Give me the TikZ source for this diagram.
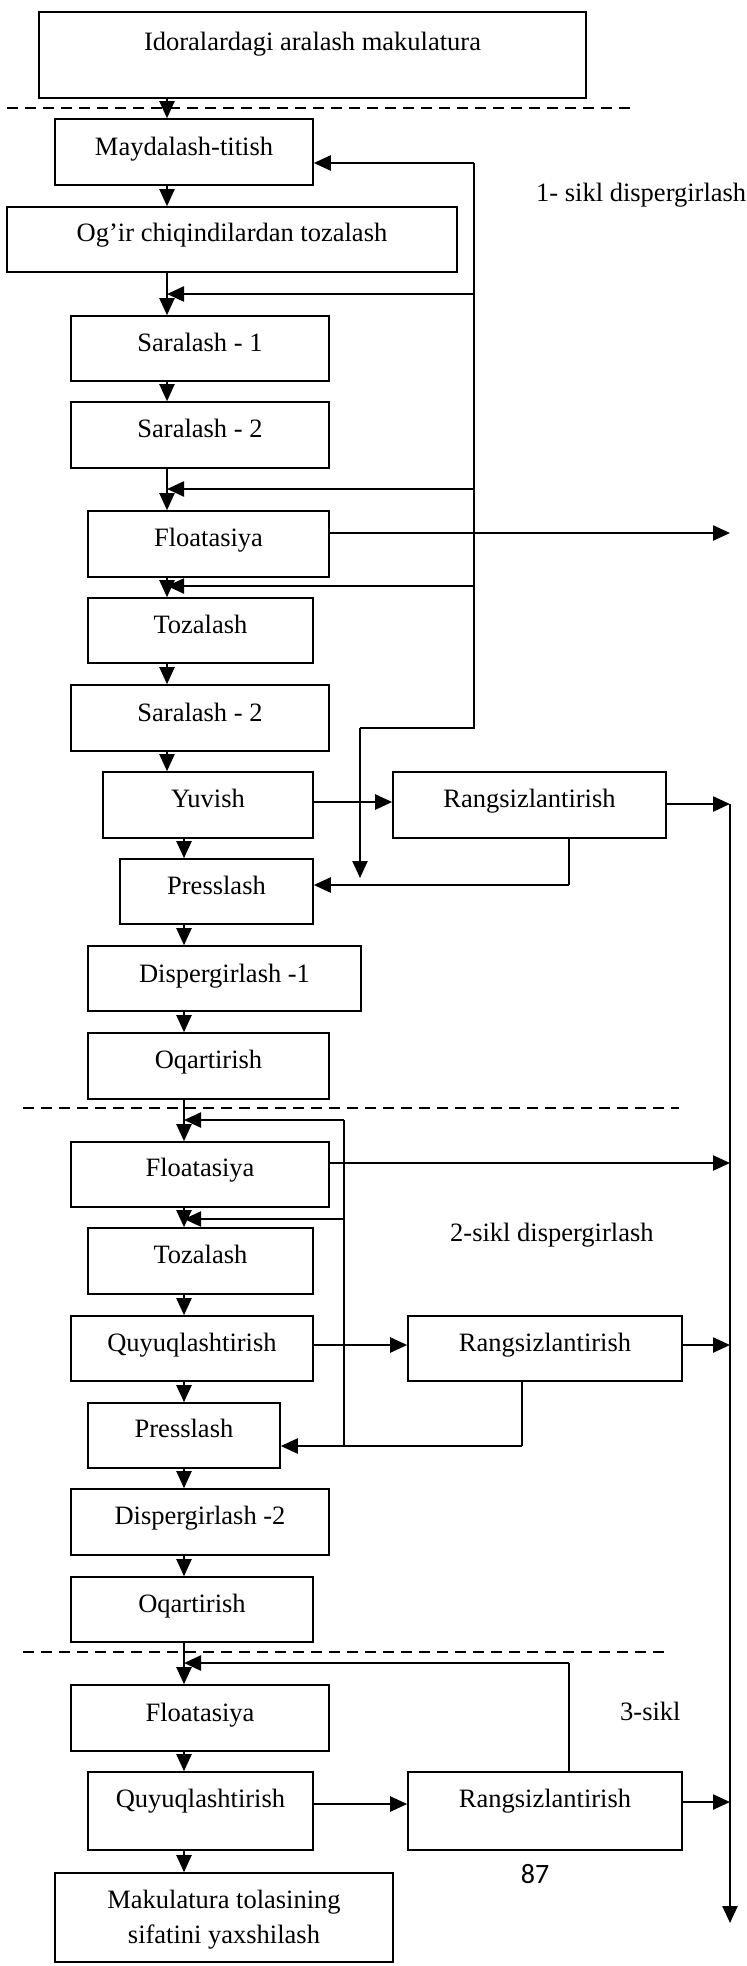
\documentclass[tikz,border=0pt]{standalone}
\usepackage{fontspec}
\setmainfont{Liberation Serif}
\newfontfamily\numfont{Carlito}
\usetikzlibrary{arrows.meta}
\newcommand\mybox[7]{%
  \node[box, minimum width={#3-#2}, minimum height={#5-#4}] (#1) at ({(#2+#3)/2},{(#4+#5)/2}) {};
  \node[txt, anchor=base] (#1t) at ({(#2+#3)/2},#6) {#7};}
\begin{document}
\begin{tikzpicture}[x=1pt,y=-1pt,
  box/.style={draw, line width=1.6pt, inner sep=0pt, rectangle},
  txt/.style={font=\fontsize{26.5}{35}\selectfont, inner sep=0pt},
  arr/.style={line width=2pt, -{Triangle[length=17pt,width=15pt]}},
  fb/.style={line width=2.4pt, -{Triangle[length=17pt,width=15pt]}},
  thinline/.style={line width=1.2pt},
  thickline/.style={line width=2.4pt},
  dashline/.style={line width=1.5pt, dash pattern=on 11pt off 7pt}]
\useasboundingbox (0,0) rectangle (747,1966);

% boxes
\mybox{b1}{39}{586}{12}{98}{50}{Idoralardagi aralash makulatura}
\mybox{b2}{55}{313}{119}{185}{155}{Maydalash-titish}
\mybox{b3}{7}{457}{207}{272}{241}{Og’ir chiqindilardan tozalash}
\mybox{b4}{71}{329}{316}{381}{351}{Saralash - 1}
\mybox{b5}{71}{329}{402}{468}{437}{Saralash - 2}
\mybox{b6}{88}{329}{511}{577}{546}{Floatasiya}
\mybox{b7}{88}{313}{598}{663}{633}{Tozalash}
\mybox{b8}{71}{329}{685}{751}{721}{Saralash - 2}
\mybox{b9}{103}{313}{772}{838}{807}{Yuvish}
\mybox{b10}{393}{666}{772}{838}{807}{Rangsizlantirish}
\mybox{b11}{120}{313}{859}{924}{894}{Presslash}
\mybox{b12}{88}{361}{946}{1011}{982}{Dispergirlash -1}
\mybox{b13}{88}{329}{1033}{1099}{1068}{Oqartirish}
\mybox{b14}{71}{329}{1142}{1207}{1176}{Floatasiya}
\mybox{b15}{88}{313}{1228}{1294}{1263}{Tozalash}
\mybox{b16}{71}{313}{1316}{1381}{1351}{Quyuqlashtirish}
\mybox{b17}{408}{682}{1316}{1381}{1351}{Rangsizlantirish}
\mybox{b18}{88}{280}{1403}{1468}{1437}{Presslash}
\mybox{b19}{71}{329}{1489}{1555}{1524}{Dispergirlash -2}
\mybox{b20}{71}{313}{1577}{1642}{1612}{Oqartirish}
\mybox{b21}{71}{329}{1685}{1751}{1721}{Floatasiya}
\mybox{b22}{88}{313}{1772}{1850}{1807}{Quyuqlashtirish}
\mybox{b23}{408}{682}{1772}{1850}{1807}{Rangsizlantirish}
\node[box, minimum width=338, minimum height=89] (b24) at (224,1917.5) {};
\node[txt, align=center] (b24t) at (224,1920) {Makulatura tolasining\\sifatini yaxshilash};

% labels
\node[txt, anchor=base west] (lab1) at (536,201) {1- sikl dispergirlash};
\node[txt, anchor=base west] (lab2) at (450,1241) {2-sikl dispergirlash};
\node[txt, anchor=base west] (lab3) at (620,1720) {3-sikl};
\node[inner sep=0pt, anchor=base, font=\numfont\fontsize{28}{32}\selectfont] (pg) at (535,1883) {87};

% dashed separators
\coordinate (d1a) at (7,108); \coordinate (d1b) at (634,108);
\coordinate (d2a) at (23,1108); \coordinate (d2b) at (679,1108);
\coordinate (d3a) at (23,1652); \coordinate (d3b) at (665,1652);
\draw[dashline] (d1a) -- (d1b);
\draw[dashline] (d2a) -- (d2b);
\draw[dashline] (d3a) -- (d3b);

% main columns
\coordinate (cA) at (167,0);
\coordinate (cB) at (184,0);
\foreach \u/\v in {b1/b2,b2/b3,b3/b4,b4/b5,b5/b6,b6/b7,b7/b8,b8/b9}
  \draw[arr] (\u.south -| cA) -- (\v.north -| cA);
\foreach \u/\v in {b9/b11,b11/b12,b12/b13,b13/b14,b14/b15,b15/b16,b16/b18,b18/b19,b19/b20,b20/b21,b21/b22,b22/b24}
  \draw[arr] (\u.south -| cB) -- (\v.north -| cB);

% loop 1
\coordinate (sp) at (409,0);
\coordinate (L1a) at (474,163);
\coordinate (L1b) at (474,294);
\coordinate (L1c) at (474,489);
\coordinate (L1d) at (474,586);
\coordinate (L1e) at (474,728);
\coordinate (L1f) at (360,728);
\coordinate (L1g) at (360,878);
\draw[thinline] (L1a) -- (L1e) -- (L1f);
\draw[fb] (L1f) -- (L1g);
\draw[thinline] (L1a) -- (L1a -| sp);
\draw[fb] (L1a -| sp) -- (L1a -| b2.east);
\foreach \p in {L1b,L1c,L1d}{
  \draw[thinline] (\p) -- (\p -| sp);
  \draw[fb] (\p -| sp) -- (\p -| cA);}

% Yuvish -> Rangsizlantirish, Rangsizlantirish -> Presslash
\coordinate (h1) at (0,802);
\draw[fb] (b9.east |- h1) -- (b10.west |- h1);
\coordinate (R1a) at (569,885);
\draw[thinline] (b10.south -| R1a) -- (R1a);
\draw[fb] (R1a) -- (R1a -| b11.east);

% right collector
\coordinate (F1) at (730,533);
\draw[fb] (F1 -| b6.east) -- (F1);
\coordinate (RLtop) at (730,804);
\coordinate (RLbot) at (730,1923);
\draw[fb] (RLtop) -- (RLbot);
\draw[fb] (RLtop -| b10.east) -- (RLtop);
\coordinate (F2) at (730,1163);
\draw[fb] (F2 -| b14.east) -- (F2);
\coordinate (F3) at (730,1345);
\draw[fb] (F3 -| b17.east) -- (F3);
\coordinate (F4) at (730,1802);
\draw[fb] (F4 -| b23.east) -- (F4);

% loop 2
\coordinate (L2a) at (344,1120);
\coordinate (L2b) at (344,1219);
\coordinate (L2c) at (344,1446);
\draw[thinline] (L2a) -- (L2c);
\draw[fb] (L2a) -- (L2a -| cB);
\draw[fb] (L2b) -- (L2b -| cB);
\coordinate (h2) at (0,1345);
\draw[fb] (b16.east |- h2) -- (b17.west |- h2);
\coordinate (R2a) at (522,1446);
\draw[thinline] (b17.south -| R2a) -- (R2a);
\draw[fb] (R2a) -- (R2a -| b18.east);

% loop 3
\coordinate (h3) at (0,1804);
\draw[fb] (b22.east |- h3) -- (b23.west |- h3);
\coordinate (R3a) at (569,1663);
\draw[thinline] (b23.north -| R3a) -- (R3a);
\draw[fb] (R3a) -- (R3a -| cB);
\end{tikzpicture}
\end{document}
